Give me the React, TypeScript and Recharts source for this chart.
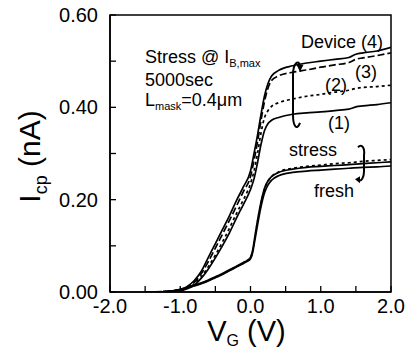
import { LineChart, Line, XAxis, YAxis, ReferenceArea, ReferenceDot } from 'recharts'

// gate voltage grid for the stressed curves (V)
const VG_STRESS = [-1.5, -1.2, -1.0, -0.9, -0.8, -0.7, -0.6, -0.5, -0.4, -0.3, -0.2, -0.1, 0, 0.05, 0.1, 0.15, 0.2, 0.25, 0.3, 0.4, 0.6, 0.8, 1.0, 1.2, 1.4, 1.5, 1.6, 1.8, 2.0]
// Icp after stress, devices (1)..(4) (nA)
const ICP_DEV1 = [0, 0.001, 0.003, 0.007, 0.015, 0.03, 0.05, 0.074, 0.1, 0.128, 0.16, 0.19, 0.222, 0.245, 0.28, 0.32, 0.35, 0.365, 0.372, 0.378, 0.385, 0.388, 0.39, 0.393, 0.396, 0.401, 0.403, 0.406, 0.41]
const ICP_DEV2 = [0, 0.001, 0.003, 0.008, 0.017, 0.033, 0.055, 0.08, 0.108, 0.138, 0.17, 0.2, 0.235, 0.262, 0.3, 0.345, 0.378, 0.393, 0.402, 0.41, 0.418, 0.424, 0.428, 0.433, 0.437, 0.441, 0.443, 0.445, 0.448]
const ICP_DEV3 = [0, 0.001, 0.004, 0.01, 0.021, 0.04, 0.066, 0.095, 0.125, 0.155, 0.186, 0.218, 0.25, 0.285, 0.325, 0.372, 0.413, 0.442, 0.458, 0.468, 0.476, 0.481, 0.487, 0.492, 0.497, 0.504, 0.507, 0.512, 0.518]
const ICP_DEV4 = [0, 0.001, 0.005, 0.012, 0.025, 0.045, 0.075, 0.105, 0.135, 0.165, 0.198, 0.228, 0.262, 0.3, 0.34, 0.385, 0.425, 0.452, 0.468, 0.48, 0.49, 0.496, 0.5, 0.504, 0.508, 0.515, 0.518, 0.522, 0.53]

// gate voltage grid for the fresh curves (V)
const VG_FRESH = [-1.5, -1.2, -1.0, -0.9, -0.8, -0.7, -0.6, -0.5, -0.4, -0.3, -0.2, -0.1, -0.05, 0, 0.03, 0.06, 0.1, 0.15, 0.2, 0.25, 0.3, 0.4, 0.6, 0.8, 1.0, 1.2, 1.4, 1.6, 1.8, 2.0]
const ICP_FRESH_A = [0, 0.001, 0.006, 0.01, 0.015, 0.02, 0.026, 0.033, 0.04, 0.048, 0.056, 0.064, 0.068, 0.075, 0.09, 0.118, 0.155, 0.195, 0.225, 0.241, 0.25, 0.259, 0.266, 0.27, 0.272, 0.274, 0.276, 0.278, 0.28, 0.282]
const ICP_FRESH_B = [0, 0.001, 0.006, 0.01, 0.014, 0.019, 0.025, 0.032, 0.039, 0.047, 0.055, 0.063, 0.067, 0.074, 0.088, 0.115, 0.152, 0.192, 0.223, 0.24, 0.25, 0.26, 0.268, 0.272, 0.275, 0.278, 0.28, 0.283, 0.285, 0.287]
const ICP_FRESH_C = [0, 0.001, 0.005, 0.009, 0.013, 0.018, 0.024, 0.031, 0.038, 0.046, 0.054, 0.062, 0.066, 0.072, 0.085, 0.11, 0.145, 0.185, 0.215, 0.232, 0.242, 0.252, 0.259, 0.262, 0.264, 0.266, 0.268, 0.27, 0.271, 0.273]

const X_TICKS = [-2, -1.5, -1, -0.5, 0, 0.5, 1, 1.5, 2]
const Y_TICKS = [0, 0.1, 0.2, 0.3, 0.4, 0.5, 0.6]

const FONT = '"Liberation Sans", Arial, sans-serif'

const toPoints = (xs: number[], ys: number[]) => xs.map((vg, i) => ({ vg, icp: ys[i] }))

const SERIES = [
  { key: 'dev1', data: toPoints(VG_STRESS, ICP_DEV1), dash: undefined },
  { key: 'dev2', data: toPoints(VG_STRESS, ICP_DEV2), dash: '3 3' },
  { key: 'dev3', data: toPoints(VG_STRESS, ICP_DEV3), dash: '7 3' },
  { key: 'dev4', data: toPoints(VG_STRESS, ICP_DEV4), dash: undefined },
  { key: 'freshA', data: toPoints(VG_FRESH, ICP_FRESH_A), dash: undefined },
  { key: 'freshB', data: toPoints(VG_FRESH, ICP_FRESH_B), dash: '3 3' },
  { key: 'freshC', data: toPoints(VG_FRESH, ICP_FRESH_C), dash: undefined },
]

// text notes placed in data coordinates (left edge, baseline)
const NOTES = [
  { x: -1.502, y: 0.496, text: 'Stress @ I', sub: 'B,max', after: '' },
  { x: -1.502, y: 0.446, text: '5000sec', sub: '', after: '' },
  { x: -1.502, y: 0.403, text: 'L', sub: 'mask', after: '=0.4μm' },
  { x: 0.719, y: 0.528, text: 'Device (4)', sub: '', after: '' },
  { x: 1.488, y: 0.4635, text: '(3)', sub: '', after: '' },
  { x: 1.06, y: 0.435, text: '(2)', sub: '', after: '' },
  { x: 1.103, y: 0.353, text: '(1)', sub: '', after: '' },
  { x: 0.548, y: 0.2946, text: 'stress', sub: '', after: '' },
  { x: 0.904, y: 0.2058, text: 'fresh', sub: '', after: '' },
]

function XTick({ x, y, payload }: any) {
  const v = payload.value
  const major = Math.abs(v - Math.round(v)) < 1e-6
  return (
    <g>
      <line x1={x} y1={y} x2={x} y2={y - 6} stroke="#000" strokeWidth={1.3} />
      {major && (
        <text x={x} y={y + 21} textAnchor="middle" fontSize={20} fontFamily={FONT} fill="#000">
          {v.toFixed(1)}
        </text>
      )}
    </g>
  )
}

function YTick({ x, y, payload }: any) {
  const v = payload.value
  const major = Math.round(v * 10) % 2 === 0
  return (
    <g>
      <line x1={x} y1={y} x2={x + 6} y2={y} stroke="#000" strokeWidth={1.3} />
      {major && (
        <text x={x - 12} y={y + 7} textAnchor="end" fontSize={20} fontFamily={FONT} fill="#000">
          {v.toFixed(2)}
        </text>
      )}
    </g>
  )
}

function Note({ cx, cy, note }: any) {
  return (
    <text x={cx} y={cy} fontSize={18} fontFamily={FONT} fill="#000">
      {note.text}
      {note.sub && (
        <tspan fontSize={11} dy={4}>
          {note.sub}
        </tspan>
      )}
      {note.after && <tspan dy={-4}>{note.after}</tspan>}
    </text>
  )
}

// curved arrow across the stressed curves
function StressArrow({ cx, cy }: any) {
  return (
    <g transform={`translate(${cx},${cy})`}>
      <path d="M 3 28 C 0 36, -4 32, -4 20 L -4 -20 C -4 -32, 2 -36, 3 -29" fill="none" stroke="#000" strokeWidth={2} />
      <path d="M -0.5 -30 L 6.5 -30 L 3 -23 Z" fill="#000" />
    </g>
  )
}

// curved arrow across the fresh curves
function FreshArrow({ cx, cy }: any) {
  return (
    <g transform={`translate(${cx},${cy})`}>
      <path d="M -3 -16 C 1 -20, 4 -15, 3 -8 L 3 8 C 3 15, 0 18, -2 17" fill="none" stroke="#000" strokeWidth={2} />
      <path d="M -6 16 L -1 13 L -1 20 Z" fill="#000" />
    </g>
  )
}

export default function App() {
  return (
    <div style={{ position: 'fixed', left: 0, top: 0, background: '#fff' }}>
      <LineChart width={405} height={351} margin={{ top: 15, right: 14, bottom: 0, left: 0 }}>
        <XAxis
          dataKey="vg"
          type="number"
          domain={[-2, 2]}
          ticks={X_TICKS}
          allowDataOverflow
          height={59}
          tickSize={0}
          tickMargin={0}
          tickLine={false}
          tick={<XTick />}
          axisLine={{ stroke: '#000', strokeWidth: 1.5 }}
          label={{
            content: ({ viewBox }: any) => (
              <text
                x={viewBox.x + viewBox.width / 2 - 4}
                y={viewBox.y + 49}
                textAnchor="middle"
                fontSize={29}
                fontFamily={FONT}
                fill="#000"
              >
                V<tspan fontSize={16} dy={5}>G</tspan>
                <tspan dy={-5}> (V)</tspan>
              </text>
            ),
          }}
        />
        <YAxis
          dataKey="icp"
          type="number"
          domain={[0, 0.6]}
          ticks={Y_TICKS}
          allowDataOverflow
          width={110}
          tickSize={0}
          tickMargin={0}
          tickLine={false}
          tick={<YTick />}
          axisLine={{ stroke: '#000', strokeWidth: 1.5 }}
          label={{
            content: ({ viewBox }: any) => {
              const lx = 40
              const ly = viewBox.y + viewBox.height / 2 + 3
              return (
                <text
                  x={lx}
                  y={ly}
                  transform={`rotate(-90, ${lx}, ${ly})`}
                  textAnchor="middle"
                  fontSize={30}
                  fontFamily={FONT}
                  fill="#000"
                >
                  I<tspan fontSize={18} dy={7}>cp</tspan>
                  <tspan dy={-7}> (nA)</tspan>
                </text>
              )
            },
          }}
        />
        <ReferenceArea x1={-2} x2={2} y1={0} y2={0.6} fill="none" stroke="#000" strokeWidth={1.5} />
        {SERIES.map((s) => (
          <Line
            key={s.key}
            data={s.data}
            dataKey="icp"
            type="monotone"
            stroke="#000"
            strokeWidth={1.7}
            strokeDasharray={s.dash}
            dot={false}
            activeDot={false}
            isAnimationActive={false}
          />
        ))}
        {NOTES.map((n, i) => (
          <ReferenceDot key={i} x={n.x} y={n.y} r={0} shape={(p: any) => <Note {...p} note={n} />} />
        ))}
        <ReferenceDot x={0.662} y={0.427} r={0} shape={(p: any) => <StressArrow {...p} />} />
        <ReferenceDot x={1.573} y={0.279} r={0} shape={(p: any) => <FreshArrow {...p} />} />
      </LineChart>
    </div>
  )
}
